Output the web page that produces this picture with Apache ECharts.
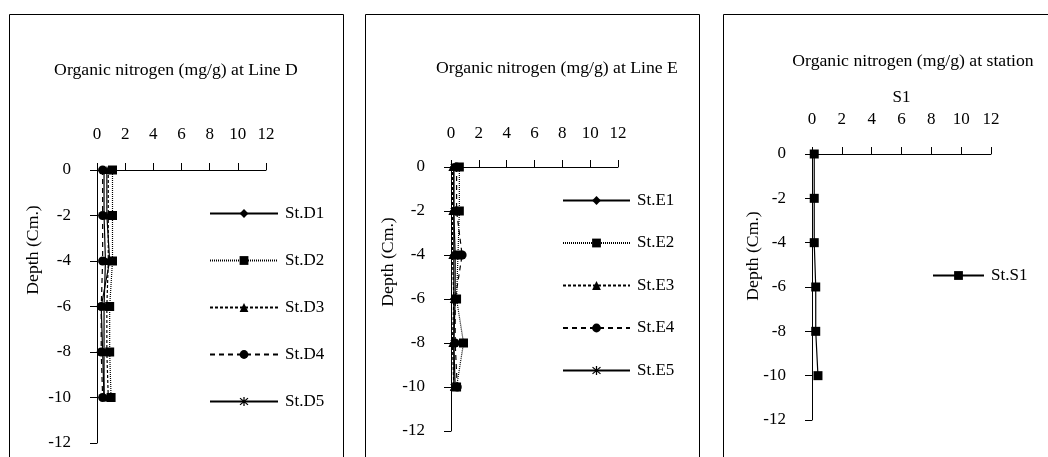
<!DOCTYPE html>
<html>
<head>
<meta charset="utf-8">
<script src="https://cdn.jsdelivr.net/npm/echarts@6/dist/echarts.min.js"></script>
<style>html,body{margin:0;padding:0;background:#fff}#c{width:1048px;height:457px}</style>
</head>
<body>
<div id="c"></div>
<script>
const depths = [0, -2, -4, -6, -8, -10];
const xTicks = [0, 2, 4, 6, 8, 10, 12];
const yTicks = [0, -2, -4, -6, -8, -10, -12];

const namesD = ['St.D1', 'St.D2', 'St.D3', 'St.D4', 'St.D5'];
const stD1 = [0.5, 0.5, 0.6, 0.5, 0.5, 0.5];
const stD2 = [1.1, 1.1, 1.1, 0.9, 0.9, 1.0];
const stD3 = [0.8, 0.8, 0.8, 0.7, 0.7, 0.8];
const stD4 = [0.4, 0.4, 0.4, 0.3, 0.3, 0.4];
const stD5 = [0.7, 0.7, 0.9, 0.3, 0.4, 0.5];

const namesE = ['St.E1', 'St.E2', 'St.E3', 'St.E4', 'St.E5'];
const stE1 = [0.2, 0.2, 0.2, 0.2, 0.2, 0.3];
const stE2 = [0.6, 0.6, 0.5, 0.4, 0.9, 0.4];
const stE3 = [0.1, 0.1, 0.1, 0.2, 0.1, 0.2];
const stE4 = [0.4, 0.4, 0.8, 0.3, 0.3, 0.45];
const stE5 = [0.2, 0.2, 0.3, 0.3, 0.2, 0.2];

const namesS = ['St.S1'];
const stS1 = [0.15, 0.15, 0.15, 0.25, 0.25, 0.4];

const titles = ['Organic nitrogen (mg/g) at Line D', 'Organic nitrogen (mg/g) at Line E', 'Organic nitrogen (mg/g) at station'];
const subName = 'S1';
const yName = 'Depth (Cm.)';

const FONT = 'Liberation Serif';
const FS = 17;
const FT = 17.7;
const star = 'path://M4.4 0 L5.6 0 L5.6 10 L4.4 10 Z M0.8 1.6 L1.6 0.8 L9.2 8.4 L8.4 9.2 Z M8.4 0.8 L9.2 1.6 L1.6 9.2 L0.8 8.4 Z';

const styles = [
  {symbol: 'diamond', size: 8, type: 'solid'},
  {symbol: 'rect', size: 9, type: [1, 1]},
  {symbol: 'triangle', size: 8, type: [3, 2]},
  {symbol: 'circle', size: 9, type: [5, 4]},
  {symbol: star, size: 7, type: 'solid'}
];

function pts(vals) { return vals.map((v, i) => [v, depths[i]]); }

const grids = [
  {left: 97, top: 170, width: 169, height: 273},
  {left: 451, top: 167, width: 167, height: 264},
  {left: 812, top: 154, width: 179, height: 266}
];
const xMargins = [27, 25, 26];

function xAx(i, name) {
  return {
    gridIndex: i, type: 'value', position: 'top', min: 0, max: 12, interval: 2,
    name: name || '', nameLocation: 'middle', nameGap: 48,
    nameTextStyle: {fontFamily: FONT, fontSize: FS, color: '#000'},
    axisLine: {show: true, onZero: false, lineStyle: {color: '#000', width: 1}},
    axisTick: {show: true, inside: false, length: 7, lineStyle: {color: '#000'}},
    axisLabel: {margin: xMargins[i], fontFamily: FONT, fontSize: FS, color: '#000'},
    splitLine: {show: false}
  };
}
function yAx(i) {
  return {
    gridIndex: i, type: 'value', min: -12, max: 0, interval: 2,
    axisLine: {show: true, onZero: false, lineStyle: {color: '#000', width: 1}},
    axisTick: {show: true, inside: false, length: 7, lineStyle: {color: '#000'}},
    axisLabel: {margin: 26, fontFamily: FONT, fontSize: FS, color: '#000'},
    splitLine: {show: false}
  };
}

const series = [];
function addSeries(names, arrs, gi, styleIdx) {
  names.forEach((n, k) => {
    const st = styles[styleIdx ? styleIdx[k] : k];
    series.push({
      name: n, type: 'line', xAxisIndex: gi, yAxisIndex: gi,
      data: pts(arrs[k]), symbol: st.symbol, symbolSize: st.size,
      showAllSymbol: true, animation: false,
      lineStyle: {color: '#000', width: 1.2, type: st.type},
      itemStyle: {color: '#000'}
    });
  });
}
addSeries(namesD, [stD1, stD2, stD3, stD4, stD5], 0);
addSeries(namesE, [stE1, stE2, stE3, stE4, stE5], 1);
addSeries(namesS, [stS1], 2, [1]);
series[series.length - 1].lineStyle.type = 'solid';

function legend(names, left, top, w, gap) {
  return {
    data: names, orient: 'vertical', left: left, top: top, padding: 0,
    itemWidth: w, itemHeight: 11, itemGap: gap,
    textStyle: {fontFamily: FONT, fontSize: FS, color: '#000', padding: [0, 0, 0, 2]},
    selectedMode: false
  };
}

function border(x, w) {
  return {type: 'rect', shape: {x: x + 0.5, y: 14.5, width: w, height: 500},
    style: {fill: 'none', stroke: '#000', lineWidth: 1}, silent: true};
}
function vText(x, y) {
  return {type: 'text', x: x, y: y, rotation: Math.PI / 2,
    style: {text: yName, font: FT + 'px "' + FONT + '"', fill: '#000', align: 'center', verticalAlign: 'middle'}};
}
function ttl(text, cx, top) {
  return {text: text, left: cx, top: top, padding: 0, textAlign: 'center',
    textStyle: {fontFamily: FONT, fontSize: FT, fontWeight: 'normal', color: '#000'}};
}

const chart = echarts.init(document.getElementById('c'), null, {renderer: 'canvas'});
chart.setOption({
  animation: false,
  color: ['#000'],
  title: [ttl(titles[0], 176, 61), ttl(titles[1], 557, 59), ttl(titles[2], 913, 52)],
  grid: grids,
  xAxis: [xAx(0), xAx(1), xAx(2, subName)],
  yAxis: [yAx(0), yAx(1), yAx(2)],
  legend: [
    legend(namesD, 209, 205, 68, 30),
    legend(namesE, 562, 192, 67, 25.5),
    legend(namesS, 932, 267, 51, 20)
  ],
  graphic: [border(9, 334), border(365, 334), border(723, 400),
    vText(33, 250), vText(388, 262), vText(753, 256)],
  series: series
});
</script>
</body>
</html>
